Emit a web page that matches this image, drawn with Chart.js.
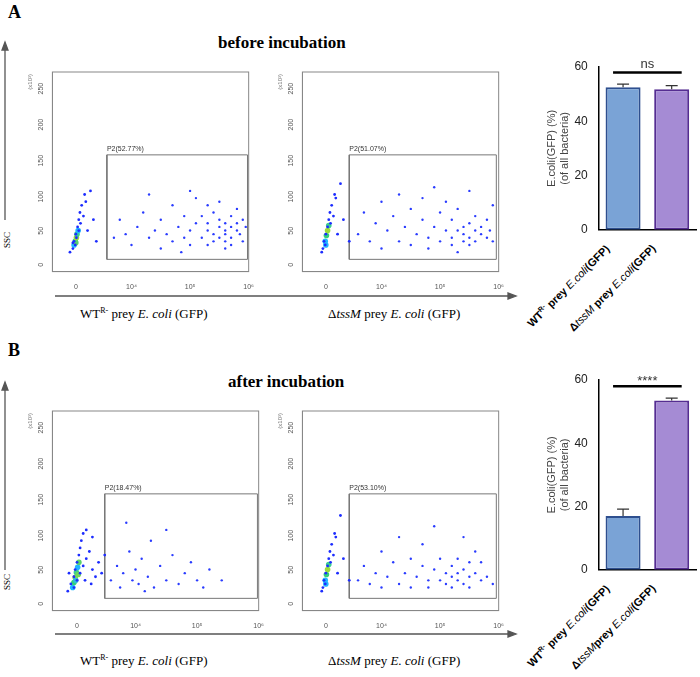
<!DOCTYPE html>
<html><head><meta charset="utf-8">
<script src="https://cdn.jsdelivr.net/npm/chart.js@4"></script>
<style>
body{margin:0;width:700px;height:677px;background:#fff;position:relative;font-family:"Liberation Serif",serif;overflow:hidden}
.abs{position:absolute}
canvas{position:absolute}
.t{font-weight:bold;font-size:17px}
.lab{font-size:13px;white-space:nowrap}
.rot{font-family:Arial,"Liberation Sans",sans-serif;font-size:11px;font-weight:bold;white-space:nowrap;transform-origin:right top;transform:rotate(-45deg);text-align:right}
</style></head><body>
<div class="abs t" style="left:8px;top:2px;font-size:18px">A</div>
<div class="abs t" style="left:218px;top:33px">before incubation</div>
<div class="abs t" style="left:8px;top:340px;font-size:18px">B</div>
<div class="abs t" style="left:228px;top:372px">after incubation</div>
<div class="abs lab" style="left:80px;top:306px">WT<sup style="font-size:8px">R-</sup> prey <i>E. coli</i> (GFP)</div>
<div class="abs lab" style="left:328px;top:306px">Δ<i>tssM</i> prey <i>E. coli</i> (GFP)</div>
<div class="abs lab" style="left:80px;top:653px">WT<sup style="font-size:8px">R-</sup> prey <i>E. coli</i> (GFP)</div>
<div class="abs lab" style="left:328px;top:653px">Δ<i>tssM</i> prey <i>E. coli</i> (GFP)</div>
<svg class="abs" style="left:0;top:0" width="700" height="677">
<g stroke="#555" stroke-width="1.3" fill="#555">
<line x1="5" y1="50" x2="5" y2="220"/><polygon points="2,50 8,50 5,42"/>
<line x1="55" y1="296" x2="508" y2="296"/><polygon points="508,293 508,299 516,296"/>
<line x1="5" y1="390" x2="5" y2="570"/><polygon points="2,390 8,390 5,382"/>
<line x1="55" y1="634" x2="508" y2="634"/><polygon points="508,631 508,637 516,634"/>
</g>
<text x="10" y="248" font-size="9" transform="rotate(-90 10 248)" font-family="Liberation Serif">SSC</text>
<text x="10" y="590" font-size="9" transform="rotate(-90 10 590)" font-family="Liberation Serif">SSC</text>
</svg>
<canvas id="s1" style="left:22px;top:62px" width="235" height="232"></canvas>
<canvas id="s2" style="left:272px;top:62px" width="235" height="232"></canvas>
<canvas id="s3" style="left:22px;top:401px" width="245" height="232"></canvas>
<canvas id="s4" style="left:272px;top:401px" width="235" height="232"></canvas>
<canvas id="b1" style="left:545px;top:53px" width="155" height="187"></canvas>
<canvas id="b2" style="left:545px;top:366px" width="155" height="214"></canvas>
<div class="abs rot" style="right:97px;top:242px">WT<sup style="font-size:7px">R-</sup> prey <i style="font-weight:normal">E.coli</i>(GFP)</div>
<div class="abs rot" style="right:51px;top:242px">Δ<i style="font-weight:normal">tssM</i> prey <i style="font-weight:normal">E.coli</i>(GFP)</div>
<div class="abs rot" style="right:97px;top:582px">WT<sup style="font-size:7px">R-</sup> prey <i style="font-weight:normal">E.coli</i>(GFP)</div>
<div class="abs rot" style="right:51px;top:582px">Δ<i style="font-weight:normal">tssM</i>prey <i style="font-weight:normal">E.coli</i>(GFP)</div>
<script>
// ---- data ----
const gateLabels=["P2(52.77%)","P2(51.07%)","P2(18.47%)","P2(53.10%)"];
const xTickVals=[3.05,4,5,6];
const xTickText=["0","10⁴","10⁵","10⁶"];
const gateA1=[[3.58,5],[5.98,5],[5.98,150],[3.58,150],[3.58,5]];
const gateA2=[[3.45,5],[5.96,5],[5.96,150],[3.45,150],[3.45,5]];
const gateB1=[[3.5,5],[5.98,5],[5.98,150],[3.5,150],[3.5,5]];
const gateB2=[[3.45,5],[5.96,5],[5.96,150],[3.45,150],[3.45,5]];
// representative events [x,y,...]
const negA1=[3.0,20,3.02,30,3.05,40,3.08,50,3.1,60,3.12,70,3.15,80,3.2,95,3.0,28,3.06,35,3.1,45,3.04,25,3.13,55,3.18,65,3.25,45,3.3,100,2.95,15,3.22,85,3.35,60,3.4,30];
const coreA1=[3.02,25,3.04,30,3.06,35,3.07,40,3.09,45,3.05,28];
const posA1=[3.7,35,3.8,60,3.9,40,4.0,25,4.1,50,4.2,70,4.3,35,4.4,45,4.5,60,4.5,20,4.6,40,4.7,80,4.7,30,4.8,50,4.9,35,4.9,65,5.0,45,5.0,25,5.1,55,5.1,90,5.2,35,5.2,65,5.3,45,5.3,25,5.3,55,5.4,40,5.4,70,5.4,30,5.5,50,5.5,35,5.5,60,5.5,85,5.6,45,5.6,30,5.6,55,5.6,40,5.7,50,5.7,35,5.7,65,5.7,25,5.8,45,5.8,55,5.8,75,5.85,40,5.9,60,5.9,30,5.95,50,5.0,100,4.3,95,5.6,20,5.3,80,4.85,15];
const negA2=[3.0,20,3.02,30,3.05,40,3.08,50,3.1,60,3.12,70,3.15,80,3.2,95,3.04,25,3.13,55,3.18,65,3.25,40,3.3,110,2.98,15,3.22,90,3.35,60,3.45,30];
const coreA2=[3.04,30,3.06,38,3.08,45,3.1,52,3.05,25];
const posA2=[3.6,40,3.7,70,3.8,30,3.9,55,4.0,85,4.0,20,4.1,45,4.2,65,4.3,30,4.3,95,4.4,50,4.5,75,4.5,25,4.6,40,4.7,60,4.7,90,4.8,35,4.8,20,4.9,50,5.0,70,5.0,30,5.1,45,5.1,85,5.2,35,5.2,60,5.2,25,5.3,45,5.3,75,5.4,30,5.4,50,5.4,40,5.5,35,5.5,55,5.5,25,5.6,45,5.6,30,5.6,65,5.7,40,5.7,50,5.8,35,5.8,60,5.85,45,5.9,30,5.9,80,5.5,100,4.9,105,5.3,15];
const negB1=[2.9,15,2.95,25,3.0,35,3.02,45,3.05,55,3.08,65,3.1,75,3.12,85,3.15,95,3.0,20,3.05,30,3.1,40,3.15,50,3.2,60,3.25,70,3.3,45,3.35,35,3.4,55,3.3,90,3.2,100,2.92,40,3.18,30,3.28,25,3.45,40,3.5,65];
const coreB1=[2.98,20,3.0,27,3.02,34,3.04,41,3.06,48,3.08,55,3.03,30,3.07,38];
const posB1=[3.6,30,3.7,50,3.75,20,3.8,40,3.9,70,3.95,30,4.0,45,4.05,25,4.1,60,4.2,35,4.25,85,4.3,20,4.4,50,4.5,30,4.6,65,4.7,25,4.8,40,4.9,55,5.0,30,5.1,20,5.2,45,5.4,30,4.5,100,3.85,110,4.15,15];
const negB2=[3.0,20,3.02,30,3.05,40,3.08,50,3.1,60,3.12,70,3.15,80,3.2,95,3.04,25,3.13,55,3.18,65,3.25,40,3.3,120,2.98,15,3.22,90,3.35,60,3.45,30];
const coreB2=[3.04,30,3.06,38,3.08,45,3.1,52,3.05,25];
const posB2=[3.6,30,3.7,50,3.8,25,3.9,40,4.0,70,4.0,20,4.1,35,4.2,55,4.3,25,4.3,90,4.4,40,4.5,60,4.5,20,4.6,35,4.7,50,4.7,80,4.8,30,4.8,20,4.9,45,5.0,60,5.0,30,5.1,40,5.1,25,5.2,35,5.2,50,5.2,20,5.3,40,5.3,60,5.3,30,5.4,45,5.4,25,5.5,35,5.5,55,5.5,20,5.6,40,5.7,30,5.7,55,5.8,35,5.9,25,5.4,90,4.9,105,5.6,70];
const barCats=["WT R- prey E.coli(GFP)","ΔtssM prey E.coli(GFP)"];
const barA=[52.5,51.8], errA=[1.2,1.3], sigA="ns";
const barB=[17.0,53.5], errB=[2.2,0.8], sigB="****";

// ---- helpers ----
const pts=a=>{const r=[];for(let i=0;i<a.length;i+=2)r.push({x:a[i],y:a[i+1]});return r;};
const gatePts=g=>g.map(p=>({x:p[0],y:p[1]}));
const gatePlugin={id:'gl',afterDatasetsDraw(c,a,o){const ctx=c.ctx,xs=c.scales.x,ys=c.scales.y;ctx.save();ctx.font='7px Arial';ctx.fillStyle='#333';ctx.fillText(o.text,xs.getPixelForValue(o.x),ys.getPixelForValue(152)-2);
 ctx.fillStyle='#777';ctx.font='6px Arial';ctx.translate(c.chartArea.left-20,c.chartArea.top+2);ctx.rotate(-Math.PI/2);ctx.textAlign='right';ctx.fillText('(x10³)',0,0);ctx.restore();}};
function scatter(id,neg,core,pos,gate,lbl){
 new Chart(document.getElementById(id),{type:'scatter',
  data:{datasets:[
   {data:pts(pos),pointRadius:1.2,backgroundColor:'#2a3cff',borderWidth:0},
   {data:pts(neg),pointRadius:1.4,backgroundColor:'#1d2dff',borderWidth:0},
   {data:pts(core),pointRadius:2.8,backgroundColor:['#1fb8ff','#32d17a','#9bdc3a','#3ccf8e','#22b5ff','#58d36a','#2ec0d8','#6fd95a'],borderWidth:0},
   {type:'line',data:gatePts(gate),borderColor:'#777',borderWidth:1,pointRadius:0,fill:false,tension:0}]},
  options:{animation:false,responsive:false,plugins:{legend:{display:false},tooltip:{enabled:false},gl:{text:lbl,x:gate[0][0]}},
   layout:{padding:{top:10,right:6,left:8}},
   scales:{x:{type:'linear',min:2.65,max:6,grid:{display:false},border:{color:'#888'},
     afterBuildTicks:s=>{s.ticks=xTickVals.map(v=>({value:v}));},
     ticks:{font:{size:7},color:'#555',maxRotation:0,callback:v=>xTickText[xTickVals.indexOf(v)]}},
    y:{min:-12,max:265,grid:{display:false},border:{color:'#888'},
     afterBuildTicks:s=>{s.ticks=[0,50,100,150,200,250].map(v=>({value:v}));},
     ticks:{font:{size:7},color:'#555',minRotation:90,maxRotation:90}}}},
  plugins:[gatePlugin,{id:'box',afterDraw(c){const a=c.chartArea,ctx=c.ctx;ctx.save();ctx.strokeStyle='#888';ctx.strokeRect(a.left,a.top,a.right-a.left,a.bottom-a.top);ctx.restore();}}]});
}
scatter('s1',negA1,coreA1,posA1,gateA1,gateLabels[0]);
scatter('s2',negA2,coreA2,posA2,gateA2,gateLabels[1]);
scatter('s3',negB1,coreB1,posB1,gateB1,gateLabels[2]);
scatter('s4',negB2,coreB2,posB2,gateB2,gateLabels[3]);

const errPlugin={id:'err',afterDatasetsDraw(c,a,o){const ctx=c.ctx,ys=c.scales.y,m=c.getDatasetMeta(0);ctx.save();ctx.strokeStyle='#333';ctx.lineWidth=1.2;
 m.data.forEach((b,i)=>{const v=c.data.datasets[0].data[i],t=ys.getPixelForValue(v+o.err[i]);ctx.beginPath();ctx.moveTo(b.x,b.y);ctx.lineTo(b.x,t);ctx.moveTo(b.x-6,t);ctx.lineTo(b.x+6,t);ctx.stroke();});
 const y=ys.getPixelForValue(58);ctx.lineWidth=2.5;ctx.strokeStyle='#000';ctx.beginPath();ctx.moveTo(m.data[0].x-10,y);ctx.lineTo(m.data[1].x+10,y);ctx.stroke();
 ctx.fillStyle='#333';ctx.font='13px Arial';ctx.textAlign='center';ctx.fillText(o.sig,(m.data[0].x+m.data[1].x)/2,y-(o.sig==='ns'?4:1));ctx.restore();}};
function bar(id,vals,err,sig){
 new Chart(document.getElementById(id),{type:'bar',
  data:{labels:barCats,datasets:[{data:vals,backgroundColor:['#7aa3d6','#a58bd4'],borderColor:['#2e4f8f','#552d92'],borderWidth:2,borderSkipped:false,categoryPercentage:0.9,barPercentage:0.8}]},
  options:{animation:false,responsive:false,layout:{padding:{top:14,right:4}},plugins:{legend:{display:false},tooltip:{enabled:false},err:{err,sig}},
   scales:{x:{grid:{display:false,drawTicks:true},border:{color:'#000',width:1.5},ticks:{display:false}},
    y:{min:0,max:60,grid:{display:false},border:{color:'#000',width:1.5},ticks:{stepSize:20,color:'#222',font:{size:12,family:'Arial'}},
     title:{display:true,text:['E.coli(GFP) (%)','(of all bacteria)'],color:'#444',font:{size:11,family:'Arial'},padding:0}}}},
  plugins:[errPlugin]});
}
bar('b1',barA,errA,sigA);
bar('b2',barB,errB,sigB);
</script></body></html>
